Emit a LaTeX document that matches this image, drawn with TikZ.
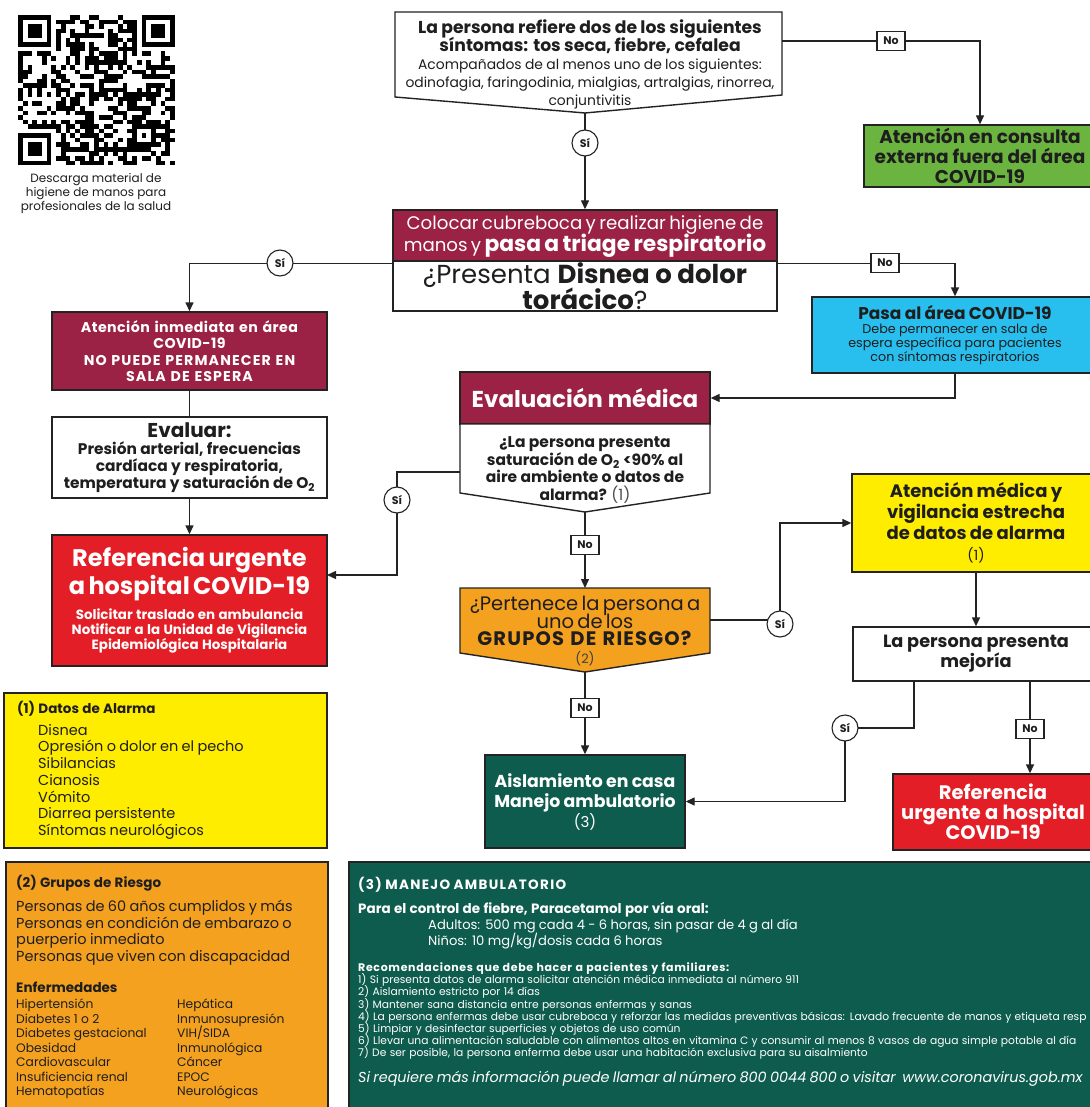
\documentclass[tikz,border=0pt]{standalone}
\usepackage{fontspec}
\setmainfont{Poppins}
\usetikzlibrary{arrows.meta}
\definecolor{maroonc}{RGB}{155,34,68}
\definecolor{greenc}{RGB}{108,180,64}
\definecolor{cyanc}{RGB}{40,190,238}
\definecolor{yellowc}{RGB}{255,237,0}
\definecolor{redc}{RGB}{228,30,38}
\definecolor{orangec}{RGB}{245,161,32}
\definecolor{dgreenc}{RGB}{14,92,78}
\definecolor{linec}{RGB}{35,35,35}
\definecolor{txtc}{RGB}{30,30,30}
\newcommand{\fs}[2]{\fontsize{#1}{#2}\selectfont}
\newcommand{\pe}{\endgraf}
\newcommand{\lsp}[2]{{\addfontfeature{LetterSpace=#1}#2}}
\begin{document}
\begin{tikzpicture}[x=1pt,y=-1pt,
  every node/.append style={execute at begin node={\lineskiplimit=-50pt\lineskip=0pt}},
  box/.style={draw=linec,line width=1.4pt,inner sep=0pt,align=center,text=txtc},
  ln/.style={draw=linec,line width=1.4pt},
  arr/.style={draw=linec,line width=1.4pt,-{Triangle[length=9pt,width=8pt]}},
  sicirc/.style={circle,draw=linec,fill=white,line width=1.1pt,minimum size=26pt,inner sep=0pt,font=\bfseries\fs{11}{11},text=txtc},
  nolab/.style={rectangle,draw=linec,fill=white,line width=1.1pt,minimum width=28pt,minimum height=19pt,inner sep=0pt,font=\bfseries\fs{11}{11},text=txtc},
  plain/.style={inner sep=0pt,align=center,text=txtc}]
\useasboundingbox (0,0) rectangle (1089,1107);
\fill[white] (0,0) rectangle (1089,1107);

% ---------- QR code ----------
\pgfmathsetseed{4242}
\foreach \i in {0,...,32}{\foreach \j in {0,...,32}{
  \pgfmathsetmacro\rr{rnd}
  \ifdim\rr pt<0.52pt \fill[black] ({18+\i*4.75},{15+\j*4.55}) rectangle ++(4.8,4.6);\fi
}}
\foreach \fx/\fy/\wx/\wy in {0/0/0/0,26/0/25/0,0/26/0/25}{
  \fill[white] ({18+\wx*4.75},{15+\wy*4.55}) rectangle ++(8*4.75,8*4.55);
  \fill[black] ({18+\fx*4.75},{15+\fy*4.55}) rectangle ++(7*4.75,7*4.55);
  \fill[white] ({18+(\fx+1)*4.75},{15+(\fy+1)*4.55}) rectangle ++(5*4.75,5*4.55);
  \fill[black] ({18+(\fx+2)*4.75},{15+(\fy+2)*4.55}) rectangle ++(3*4.75,3*4.55);
}
\fill[black] ({18+24*4.75},{15+24*4.55}) rectangle ++(5*4.75,5*4.55);
\fill[white] ({18+25*4.75},{15+25*4.55}) rectangle ++(3*4.75,3*4.55);
\fill[black] ({18+26*4.75},{15+26*4.55}) rectangle ++(4.75,4.55);
\node[plain,font=\fs{12}{14}] (qrtxt) at (96,193) {Descarga material de\\higiene de manos para\\profesionales de la salud};

% ---------- top question ----------
\draw[linec,line width=1.4pt,fill=white] (395,12) -- (782,12) -- (782,95) -- (585,113) -- (395,97) -- cycle;
\node[plain,text width=385pt] (q1) at (590,64) {{\bfseries\fs{17.2}{18}La persona refiere dos de los siguientes\\síntomas: tos seca, fiebre, cefalea\pe}{\fs{13.9}{18}Acompañados de al menos uno de los siguientes:\\odinofagia, faringodinia, mialgias, artralgias, rinorrea,\\conjuntivitis\pe}};
\coordinate (q1R) at (782,41);
\coordinate (q1B) at (585,113);

\node[box,fill=greenc,minimum width=232pt,minimum height=62pt,font=\bfseries\fs{18.5}{20}] (green) at (980,156) {Atención en consulta\\externa fuera del área\\COVID-19};

% ---------- triage ----------
\node[box,fill=maroonc,text=white,minimum width=384pt,minimum height=53pt,text width=382pt] (triage) at (585,236.5) {{\fs{18.2}{22}Colocar cubreboca y realizar higiene de\\manos y {\bfseries\fs{21.8}{22}pasa a triage respiratorio}\pe}};
\node[box,fill=white,minimum width=384pt,minimum height=50pt,font=\fs{26}{26}] (disnea) at (585,286) {¿Presenta \textbf{Disnea o dolor}\\\textbf{torácico}?};

\node[box,fill=cyanc,minimum width=286pt,minimum height=76pt,text width=280pt] (cyan) at (955,335) {{\bfseries\fs{17}{17}Pasa al área COVID-19\pe}{\fs{12.7}{14}Debe permanecer en sala de\\espera específica para pacientes\\con síntomas respiratorios\pe}};

% ---------- left column ----------
\node[box,fill=maroonc,text=white,minimum width=275pt,minimum height=78pt,text width=272pt,font=\bfseries\fs{14.2}{16.5}] (atn) at (189.5,351) {\lsp{3}{Atención inmediata en área\\COVID-19}\\\lsp{8}{NO PUEDE PERMANECER EN\\SALA DE ESPERA}};
\node[box,fill=white,minimum width=275pt,minimum height=81pt,text width=272pt] (eva) at (189.5,457.5) {{\bfseries\fs{20}{20}Evaluar:\pe}{\bfseries\fs{15.4}{17}Presión arterial, frecuencias\\cardíaca y respiratoria,\\temperatura y saturación de O\textsubscript{2}\pe}};
\node[box,fill=redc,text=white,minimum width=275pt,minimum height=131pt,text width=272pt] (ref) at (189.5,600.5) {{\bfseries\fs{24}{28}Referencia urgente\\a hospital COVID-19\pe}\vspace{10pt}{\bfseries\fs{13.4}{15}Solicitar traslado en ambulancia\\Notificar a la Unidad de Vigilancia\\Epidemiológica Hospitalaria\pe}};

% ---------- evaluacion medica ----------
\node[box,fill=maroonc,text=white,minimum width=250pt,minimum height=52pt,font=\bfseries\fs{23}{24}] (evm) at (585,398) {Evaluación médica};
\draw[linec,line width=1.4pt,fill=white] (460,424) -- (710,424) -- (710,493) -- (585,512) -- (460,493) -- cycle;
\node[plain,font=\bfseries\fs{15.5}{17.5}] (q2) at (585,470) {¿La persona presenta\\saturación de O\textsubscript{2} <90\% al\\aire ambiente o datos de\\alarma? {\mdseries\color{black!70}(1)}};
\coordinate (q2L) at (460,472);
\coordinate (q2B) at (585,512);

% ---------- grupos de riesgo question ----------
\draw[linec,line width=1.4pt,fill=orangec] (460,588) -- (710,588) -- (710,653) -- (585,672) -- (460,653) -- cycle;
\node[plain,text width=250pt] (q3) at (585,631) {{\fs{19.5}{17.5}¿Pertenece la persona a\\uno de los\\\lsp{6}{\textbf{GRUPOS\hspace{3pt} DE\hspace{3pt} RIESGO?}}\pe}{\fs{13}{18}\color{black!75}(2)\pe}};
\coordinate (q3T) at (585,588);
\coordinate (q3R) at (710,620);
\coordinate (q3B) at (585,672);

% ---------- right column ----------
\node[box,fill=yellowc,minimum width=248pt,minimum height=98pt,text width=244pt] (yel) at (976,523) {{\bfseries\fs{18}{21}Atención médica y\\vigilancia estrecha\\de datos de alarma\pe}{\fs{14}{21}(1)\pe}};
\node[box,fill=white,minimum width=246pt,minimum height=54pt,font=\bfseries\fs{17.7}{20}] (mej) at (976,654) {La persona presenta\\mejoría};
\coordinate (mejL) at (914,681);
\coordinate (mejR) at (1030,681);
\node[box,fill=redc,text=white,minimum width=200pt,minimum height=76pt,font=\bfseries\fs{19.5}{20}] (ref2) at (993,812) {Referencia\\urgente a hospital\\COVID-19};

\node[box,fill=dgreenc,text=white,minimum width=200pt,minimum height=93pt,text width=196pt] (ais) at (585,801.5) {{\bfseries\fs{17.3}{20}Aislamiento en casa\\Manejo ambulatorio\pe}{\fs{15}{20}(3)\pe}};

% ---------- connectors ----------
\draw[arr] (q1R) -| (green.north);
\node[nolab] (no1) at (891,41) {No};
\draw[arr] (q1B) -- (triage.north);
\node[sicirc] (si1) at (585,143) {Sí};
\draw[arr] (triage.south west) -| (atn.north);
\node[sicirc] (si2) at (280,263) {Sí};
\draw[arr] (triage.south east) -| (cyan.north);
\node[nolab] (no2) at (885,263) {No};
\draw[arr] (cyan.south) |- (evm.east);
\draw[ln] (atn.south) -- (eva.north);
\draw[arr] (eva.south) -- (ref.north);
\coordinate (refIn) at (327,575);
\draw[arr] (q2L) -- (397,472) -- (397,575) -- (refIn);
\node[sicirc] (si3) at (397,500) {Sí};
\draw[arr] (q2B) -- (q3T);
\node[nolab] (no3) at (585,545) {No};
\draw[arr] (q3R) -- (780,620) |- (yel.west);
\node[sicirc] (si4) at (780,624) {Sí};
\draw[arr] (q3B) -- (ais.north);
\node[nolab] (no4) at (585,708) {No};
\draw[arr] (yel.south) -- (mej.north);
\draw[arr] (mejL) -- (914,728) -- (845,728) |- (ais.east);
\node[sicirc] (si5) at (845,728) {Sí};
\draw[arr] (mejR) -- (mejR |- ref2.north);
\node[nolab] (no5) at (1030,729) {No};

% ---------- legends ----------
\node[box,fill=yellowc,minimum width=323pt,minimum height=155pt] (datos) at (165.5,770.5) {};
\node[plain,anchor=north west,align=left,text width=305pt] (datostxt) at (17,701) {{\bfseries\fs{13.5}{16}(1) Datos de Alarma\pe}\vspace{5pt}{\fs{14.5}{16.7}\hspace*{21pt}Disnea\\\hspace*{21pt}Opresión o dolor en el pecho\\\hspace*{21pt}Sibilancias\\\hspace*{21pt}Cianosis\\\hspace*{21pt}Vómito\\\hspace*{21pt}Diarrea persistente\\\hspace*{21pt}Síntomas neurológicos\pe}};

\node[box,fill=orangec,minimum width=322pt,minimum height=253pt] (grupos) at (167,988.5) {};
\node[plain,anchor=north west,align=left,text width=310pt] (grtxt) at (16,875) {{\bfseries\fs{13.5}{16}(2) Grupos de Riesgo\pe}\vspace{8pt}{\fs{14.5}{16.4}Personas de 60 años cumplidos y más\\Personas en condición de embarazo o\\puerperio inmediato\\Personas que viven con discapacidad\pe}\vspace{15pt}{\bfseries\fs{13.5}{16}Enfermedades\pe}};
\node[plain,anchor=north west,align=left,font=\fs{12.3}{14.5}] (grc1) at (16,999) {Hipertensión\\Diabetes 1 o 2\\Diabetes gestacional\\Obesidad\\Cardiovascular\\Insuficiencia renal\\Hematopatías};
\node[plain,anchor=north west,align=left,font=\fs{12.3}{14.5}] (grc2) at (177,999) {Hepática\\Inmunosupresión\\VIH/SIDA\\Inmunológica\\Cáncer\\EPOC\\Neurológicas};

\node[box,fill=dgreenc,minimum width=751pt,minimum height=253pt] (manejo) at (724.5,988.5) {};
\node[plain,anchor=north west,align=left,text=white,text width=850pt] (mantxt) at (358,877) {{\bfseries\fs{13.5}{16}\lsp{10}{(3) MANEJO AMBULATORIO}\pe}\vspace{8pt}{\bfseries\fs{13.5}{16}Para el control de fiebre, Paracetamol por vía oral:\pe}{\fs{13.1}{16}\hspace*{70pt}Adultos: 500 mg cada 4 - 6 horas, sin pasar de 4 g al día\\\hspace*{70pt}Niños: 10 mg/kg/dosis cada 6 horas\pe}\vspace{14pt}{\bfseries\fs{11}{12}\lsp{6}{Recomendaciones que debe hacer a pacientes y familiares:}\pe}{\fs{10.7}{12.2}1) Si presenta datos de alarma solicitar atención médica inmediata al número 911\\2) Aislamiento estricto por 14 días\\3) Mantener sana distancia entre personas enfermas y sanas\\4) La persona enfermas debe usar cubreboca y reforzar las medidas preventivas básicas: Lavado frecuente de manos y etiqueta resp\\5) Limpiar y desinfectar superficies y objetos de uso común\\6) Llevar una alimentación saludable con alimentos altos en vitamina C y consumir al menos 8 vasos de agua simple potable al día\\7) De ser posible, la persona enferma debe usar una habitación exclusiva para su aisalmiento\pe}\vspace{10pt}{\itshape\fs{14.4}{16}Si requiere más información puede llamar al número 800 0044 800 o visitar\ \ www.coronavirus.gob.mx\pe}};
\end{tikzpicture}
\end{document}
